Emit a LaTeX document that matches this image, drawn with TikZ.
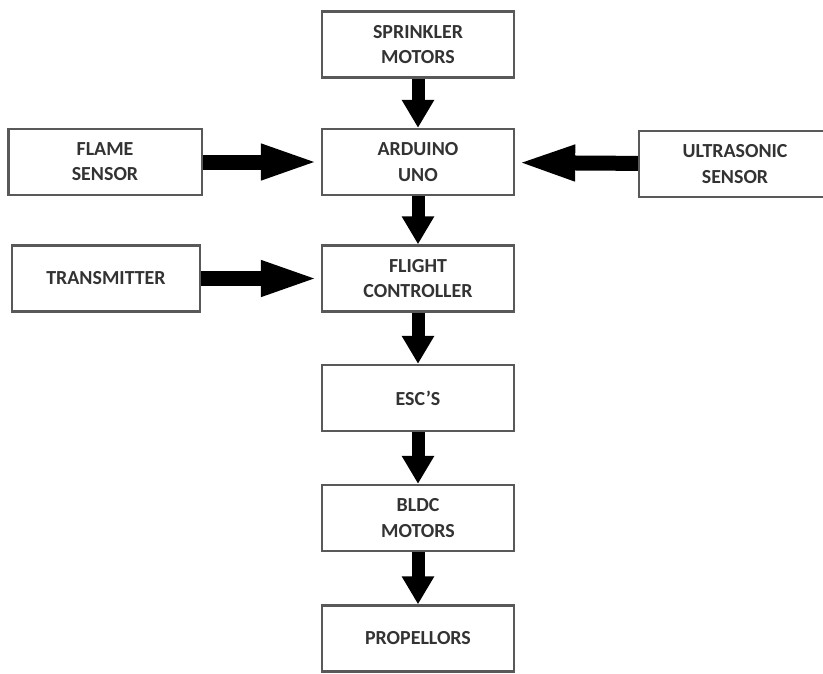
\documentclass[tikz,border=0pt]{standalone}
\usepackage{fontspec}
\setmainfont{Carlito}
\usepackage{tikz}
\usetikzlibrary{arrows.meta}
\definecolor{boxline}{gray}{0.35}
\definecolor{boxtext}{gray}{0.2}

\begin{document}
\begin{tikzpicture}[x=0.03cm,y=-0.03cm,
		block/.style={draw=boxline,line width=2pt,fill=white,minimum width=5.76cm,minimum height=1.98cm,
			align=center,text=boxtext,font=\fontsize{17}{21.5}\selectfont\bfseries,inner sep=0pt},
		downarrow/.style={line width=0.39cm,-{Triangle[length=0.84cm,width=0.92cm]}},
		sidearrow/.style={line width=0.45cm,-{Triangle[length=1.8cm,width=0.95cm]}}]
			
			% Frame
			\useasboundingbox (0,0) rectangle (823,673);
			
			% Central column
			\node[block] (sprinkler) at (418,44.5) {SPRINKLER\\MOTORS};
			\node[block] (arduino) at (418,162) {ARDUINO\\UNO};
			\node[block] (flight) at (418,278.5) {FLIGHT\\CONTROLLER};
			\node[block] (esc) at (418,398) {ESC'S};
			\node[block] (bldc) at (418,518) {BLDC\\MOTORS};
			\node[block] (prop) at (418,638.5) {PROPELLORS};
			
			% Side blocks
			\node[block,minimum width=5.8cm] (flame) at (105,162) {FLAME\\SENSOR};
			\node[block,minimum width=5.64cm] (trans) at (106,278.5) {TRANSMITTER};
			\node[block] (ultra) at (735,164) {ULTRASONIC\\SENSOR};
			
			% Arrows
			\draw[downarrow] (sprinkler) -- (arduino);
			\draw[downarrow] (arduino) -- (flight);
			\draw[downarrow] (flight) -- (esc);
			\draw[downarrow] (esc) -- (bldc);
			\draw[downarrow] (bldc) -- (prop);
			
			\draw[sidearrow] (flame) -- (arduino);
			\draw[sidearrow] (ultra) -- (arduino);
			\draw[sidearrow] (trans) -- (flight);
			
		\end{tikzpicture}
\end{document}
